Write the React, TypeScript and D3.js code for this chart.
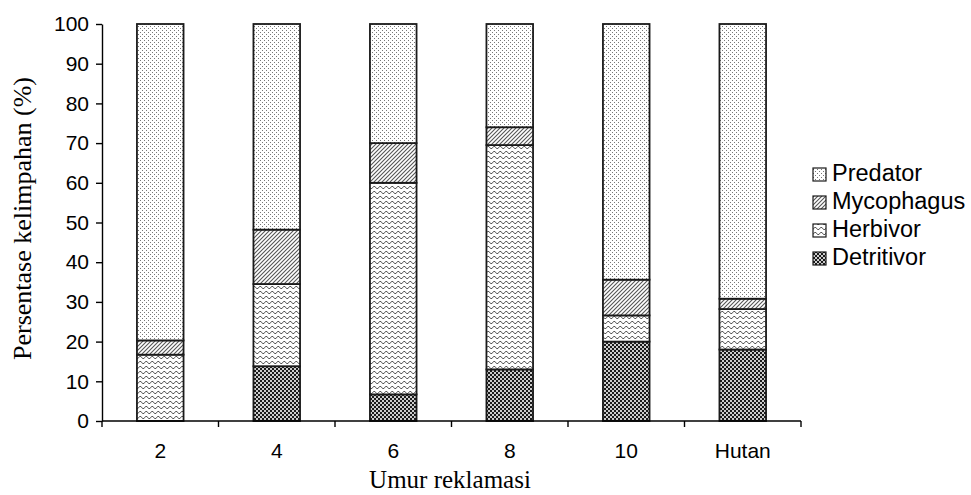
import { useEffect, useRef } from "react";
import * as d3 from "d3";

const categories = ["2", "4", "6", "8", "10", "Hutan"];
const detritivor = [0, 13.8, 6.7, 13, 20, 18];
const herbivor = [16.7, 20.7, 53.3, 56.5, 6.6, 10.2];
const mycophagus = [3.6, 13.7, 10, 4.5, 9, 2.6];
const predator = [79.7, 51.8, 30, 26, 64.4, 69.2];
const yTicks = [0, 10, 20, 30, 40, 50, 60, 70, 80, 90, 100];

const seriesNames = ["Detritivor", "Herbivor", "Mycophagus", "Predator"];
const patternIds = ["pDet", "pHerb", "pMyco", "pPred"];

const App = () => {
  const svgRef = useRef<SVGSVGElement | null>(null);

  useEffect(() => {
    const width = 971;
    const height = 495;
    const margin = { top: 24, left: 102, bottom: 74, right: 170 };

    const svg = d3.select(svgRef.current);
    svg.selectAll("*").remove();

    const defs = svg.append("defs");

    // predator: fine stipple
    const pPred = defs
      .append("pattern")
      .attr("id", "pPred")
      .attr("patternUnits", "userSpaceOnUse")
      .attr("width", 4)
      .attr("height", 4);
    pPred.append("rect").attr("width", 4).attr("height", 4).attr("fill", "#fff");
    pPred.append("rect").attr("x", 0).attr("y", 0).attr("width", 1).attr("height", 1).attr("fill", "#777");
    pPred.append("rect").attr("x", 2).attr("y", 2).attr("width", 1).attr("height", 1).attr("fill", "#777");

    // mycophagus: diagonal hatching
    const pMyco = defs
      .append("pattern")
      .attr("id", "pMyco")
      .attr("patternUnits", "userSpaceOnUse")
      .attr("width", 4)
      .attr("height", 4);
    pMyco.append("rect").attr("width", 4).attr("height", 4).attr("fill", "#fff");
    pMyco
      .append("path")
      .attr("d", "M-1,1 L1,-1 M0,4 L4,0 M3,5 L5,3")
      .attr("stroke", "#555")
      .attr("stroke-width", 1.1);

    // herbivor: wavy lines
    const pHerb = defs
      .append("pattern")
      .attr("id", "pHerb")
      .attr("patternUnits", "userSpaceOnUse")
      .attr("width", 6)
      .attr("height", 5);
    pHerb.append("rect").attr("width", 6).attr("height", 5).attr("fill", "#fff");
    pHerb
      .append("path")
      .attr("d", "M0,3.5 L1.5,1.5 L3,1.5 L4.5,3.5 L6,3.5")
      .attr("fill", "none")
      .attr("stroke", "#555")
      .attr("stroke-width", 1);

    // detritivor: checkerboard
    const pDet = defs
      .append("pattern")
      .attr("id", "pDet")
      .attr("patternUnits", "userSpaceOnUse")
      .attr("width", 4)
      .attr("height", 4);
    pDet.append("rect").attr("width", 4).attr("height", 4).attr("fill", "#ccc");
    pDet.append("rect").attr("x", 0).attr("y", 0).attr("width", 2).attr("height", 2).attr("fill", "#1a1a1a");
    pDet.append("rect").attr("x", 2).attr("y", 2).attr("width", 2).attr("height", 2).attr("fill", "#1a1a1a");

    const x = d3
      .scaleBand()
      .domain(categories)
      .range([margin.left, width - margin.right])
      .paddingInner(0.6)
      .paddingOuter(0.3);

    const y = d3
      .scaleLinear()
      .domain([0, 100])
      .range([height - margin.bottom, margin.top]);

    const rows = categories.map((c, i) => ({
      cat: c,
      Detritivor: detritivor[i],
      Herbivor: herbivor[i],
      Mycophagus: mycophagus[i],
      Predator: predator[i],
    }));

    const stacked = d3.stack<any>().keys(seriesNames)(rows);

    stacked.forEach((layer, li) => {
      svg
        .append("g")
        .selectAll("rect")
        .data(layer)
        .join("rect")
        .attr("x", (d) => x(d.data.cat)!)
        .attr("width", x.bandwidth())
        .attr("y", (d) => y(d[1]))
        .attr("height", (d) => Math.max(0, y(d[0]) - y(d[1])))
        .attr("fill", `url(#${patternIds[li]})`)
        .attr("stroke", (d) => (d[1] - d[0] > 0 ? "#1a1a1a" : "none"))
        .attr("stroke-width", 1.8);
    });

    const sans = "Liberation Sans, Arial, sans-serif";
    const serif = "Liberation Serif, Times New Roman, serif";

    // y axis
    const yAxis = svg
      .append("g")
      .attr("transform", `translate(${margin.left},0)`)
      .call(d3.axisLeft(y).tickValues(yTicks).tickSize(6).tickSizeOuter(0));
    yAxis.select(".domain").attr("stroke", "#000").attr("stroke-width", 1.4);
    yAxis.selectAll(".tick line").attr("stroke", "#000").attr("stroke-width", 1.4);
    yAxis
      .selectAll(".tick text")
      .attr("font-family", sans)
      .attr("font-size", 21)
      .attr("fill", "#000")
      .attr("x", -13);

    // x axis with boundary ticks
    const x0 = margin.left;
    const x1 = width - margin.right;
    const baseY = y(0);
    const xg = svg.append("g");
    xg.append("line")
      .attr("x1", x0)
      .attr("x2", x1)
      .attr("y1", baseY)
      .attr("y2", baseY)
      .attr("stroke", "#000")
      .attr("stroke-width", 1.4);
    const bounds = d3.range(categories.length + 1).map((i) => x0 + i * ((x1 - x0) / categories.length));
    xg.selectAll("line.tk")
      .data(bounds)
      .join("line")
      .attr("class", "tk")
      .attr("x1", (d) => d)
      .attr("x2", (d) => d)
      .attr("y1", baseY)
      .attr("y2", baseY + 6)
      .attr("stroke", "#000")
      .attr("stroke-width", 1.4);
    xg.selectAll("text")
      .data(categories)
      .join("text")
      .attr("x", (d) => x(d)! + x.bandwidth() / 2)
      .attr("y", baseY + 37)
      .attr("text-anchor", "middle")
      .attr("font-family", sans)
      .attr("font-size", 21)
      .text((d) => d);

    // axis titles
    svg
      .append("text")
      .attr("x", 450)
      .attr("y", 488)
      .attr("text-anchor", "middle")
      .attr("font-family", serif)
      .attr("font-size", 25)
      .text("Umur reklamasi");

    svg
      .append("text")
      .attr("transform", `translate(31,${(y(0) + y(100)) / 2 - 4}) rotate(-90)`)
      .attr("text-anchor", "middle")
      .attr("font-family", serif)
      .attr("font-size", 26)
      .text("Persentase kelimpahan (%)");

    // legend
    const legendOrder = ["Predator", "Mycophagus", "Herbivor", "Detritivor"];
    const lg = svg.append("g").attr("transform", "translate(813,181)");
    legendOrder.forEach((name, i) => {
      const pid = patternIds[seriesNames.indexOf(name)];
      lg.append("rect")
        .attr("x", 0)
        .attr("y", i * 28 - 13)
        .attr("width", 13)
        .attr("height", 13)
        .attr("fill", `url(#${pid})`)
        .attr("stroke", "#1a1a1a")
        .attr("stroke-width", 1.2);
      lg.append("text")
        .attr("x", 19)
        .attr("y", i * 28)
        .attr("font-family", sans)
        .attr("font-size", 23.5)
        .text(name);
    });
  }, []);

  return (
    <svg
      ref={svgRef}
      width={971}
      height={495}
      viewBox="0 0 971 495"
      style={{ position: "absolute", left: 0, top: 0, background: "#fff" }}
    />
  );
};

export default App;
